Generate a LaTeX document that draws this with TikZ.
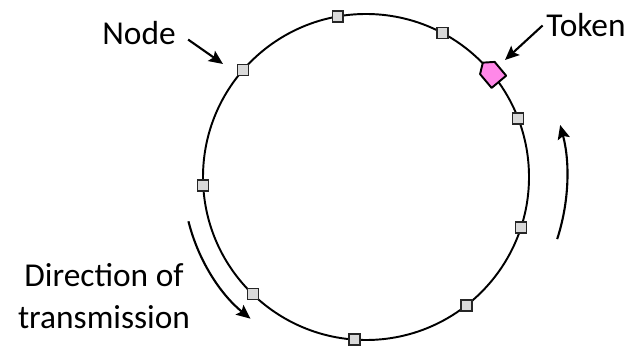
\documentclass[tikz,border=0pt]{standalone}
\usepackage{fontspec}
\setmainfont{Carlito}
\usepackage{xcolor}
\usepackage{tikz}
\usetikzlibrary{arrows.meta, calc, positioning}
\definecolor{tokenpink}{HTML}{FF88E8}
\definecolor{stationgray}{HTML}{D9D9D9}

\begin{document}
\begin{tikzpicture}[
x=0.02cm, y=0.02cm,
every node/.style={font=\fontsize{19}{24}\selectfont},
arrow/.style={-{Stealth[length=8pt, width=7pt, inset=1.5pt]}, line width=1.2pt}
]

% Define styles
\tikzstyle{ring} = [line width=1.1pt]
\tikzstyle{station} = [rectangle, draw=black!85, fill=stationgray, line width=0.8pt, minimum size=0.22cm, inner sep=0pt]
\tikzstyle{tokenshape} = [draw=black, fill=tokenpink, line width=1.1pt, line join=round]
\tikzstyle{textlabel} = [align=center, inner sep=2pt]

\useasboundingbox (0,0) rectangle (631,348);

% Ring
\coordinate (c) at (366,171);
\draw [ring] (c) circle [radius=163];

% Stations
\foreach \a [count=\i] in {-52,-18,21,62,100,139,183,226,266}
  \node (n\i) [station] at ($(c)+(\a:163)$) {};

% Token
\coordinate (tok) at ($(c)+(40:163)$);
\draw [tokenshape, shift={(tok)}, rotate=130] (-12.5,-9.5) -- (5.5,-9.5) -- (12.5,0) -- (5.5,9.5) -- (-12.5,9.5) -- cycle;

% Labels
\node (nodelabel) [textlabel, anchor=base] at (139,303) {Node};
\node (tokenlabel) [textlabel, anchor=base] at (586,311) {Token};
\node (dirlabel) [textlabel] at (104,52) {Direction of\\transmission};

% Arrows
\coordinate (nodetip) at (223,284);
\coordinate (tokentip) at (505,288);
\draw [arrow, shorten <=6pt] (nodelabel.east) -- (nodetip);
\draw [arrow] (tokenlabel.west) -- (tokentip);

% Direction
\draw [arrow] ($(c)+(194:183)$) arc [start angle=194, end angle=231, radius=182];
\draw [arrow] ($(c)+(-18:201)$) arc [start angle=-18, end angle=15, radius=201];

\end{tikzpicture}
\end{document}
